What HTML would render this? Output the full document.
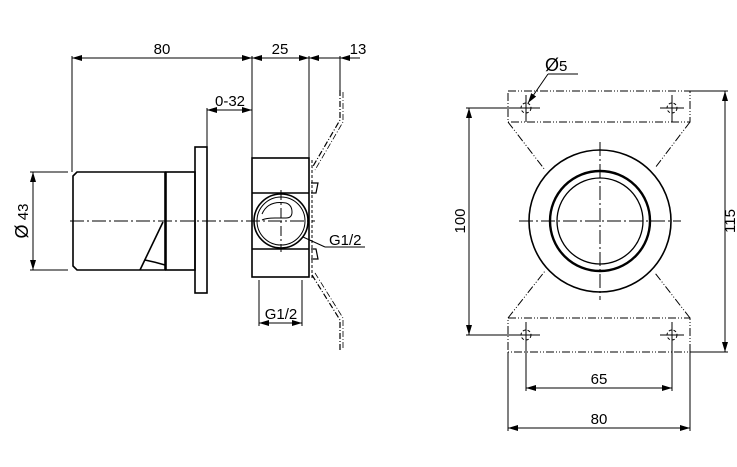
<!DOCTYPE html>
<html><head><style>html,body{margin:0;padding:0;background:#fff}svg{display:block}text{font-family:"Liberation Sans",sans-serif;font-size:15px;fill:#000}</style></head>
<body>
<svg width="737" height="467" viewBox="0 0 737 467" xmlns="http://www.w3.org/2000/svg">
<defs><marker id="a" viewBox="0 0 10 6" refX="10" refY="3" markerWidth="10" markerHeight="6" orient="auto-start-reverse" markerUnits="userSpaceOnUse"><path d="M0,0L10,3L0,6z" fill="#000"/></marker></defs>
<g stroke="#000" fill="none" stroke-width="1">
<line x1="72" y1="58" x2="252" y2="58" marker-start="url(#a)" marker-end="url(#a)"/>
<line x1="252" y1="58" x2="309" y2="58" marker-start="url(#a)" marker-end="url(#a)"/>
<line x1="309" y1="58" x2="340" y2="58" marker-start="url(#a)"/>
<line x1="340" y1="58" x2="360" y2="58" marker-start="url(#a)"/>
<line x1="72" y1="56" x2="72" y2="172"/>
<line x1="252" y1="56" x2="252" y2="158"/>
<line x1="309" y1="56" x2="309" y2="160"/>
<line x1="340" y1="56" x2="340" y2="90"/>
<line x1="207" y1="110" x2="252" y2="110" marker-start="url(#a)" marker-end="url(#a)"/>
<line x1="207" y1="108" x2="207" y2="147"/>
<g stroke-width="1.6">
<path d="M77,172 L165,172 L165,270 L77,270 L73,266 L73,176 Z"/>
<path d="M163,222 L140,270"/>
<path d="M145,260 Q155,262 165,265"/>
<rect x="166" y="172" width="29" height="98"/>
<rect x="195" y="147" width="12" height="146"/>
<rect x="252" y="158" width="57" height="119"/>
<line x1="252" y1="193" x2="309" y2="193"/>
<line x1="252" y1="249" x2="309" y2="249"/>
<circle cx="281" cy="221" r="27"/>
<circle cx="281" cy="221" r="24" stroke-width="1"/>
<path d="M262,214 Q268,200 286,203 Q292,205 292,212 Q292,218 286,218 L275,218 Q266,218 262,220" stroke-width="1"/>
<path d="M311,183 L318,183 L316,193 L311,193" stroke-width="1.2"/>
<path d="M311,249 L316,249 L318,259 L311,259" stroke-width="1.2"/>
</g>
<line x1="70" y1="221" x2="315" y2="221" stroke-dasharray="14,3,2,3"/>
<line x1="281" y1="190" x2="281" y2="252" stroke-dasharray="10,3,2,3"/>
<path d="M340,90 L340,120 L312,168" stroke-dasharray="6,2,1,2" stroke-width="1.2"/>
<path d="M343,92 L343,122 L315,170" stroke-dasharray="6,2,1,2" stroke-width="0.8"/>
<path d="M312,275 L340,320 L340,352" stroke-dasharray="6,2,1,2" stroke-width="1.2"/>
<path d="M315,273 L343,318 L343,350" stroke-dasharray="6,2,1,2" stroke-width="0.8"/>
<line x1="312" y1="160" x2="312" y2="280" stroke-dasharray="3,2"/>
<line x1="33" y1="172" x2="33" y2="270" marker-start="url(#a)" marker-end="url(#a)"/>
<line x1="30" y1="172" x2="68" y2="172"/>
<line x1="30" y1="270" x2="68" y2="270"/>
<line x1="303" y1="237" x2="325" y2="247"/>
<line x1="325" y1="247" x2="365" y2="247"/>
<line x1="259" y1="280" x2="259" y2="326"/>
<line x1="302" y1="280" x2="302" y2="326"/>
<line x1="259" y1="323" x2="302" y2="323" marker-start="url(#a)" marker-end="url(#a)"/>
<g stroke-dasharray="8,2,1,2,1,2">
<rect x="508" y="91" width="182" height="31"/>
<rect x="508" y="318" width="182" height="34"/>
<path d="M508,122 L545,170 M690,122 L655,168 M508,318 L545,271 M690,318 L655,273"/>
</g>
<circle cx="600" cy="221" r="71" stroke-width="1.6"/>
<circle cx="600" cy="221" r="50" stroke-width="2.4"/>
<circle cx="600" cy="221" r="43" stroke-width="1.3"/>
<line x1="519" y1="221" x2="681" y2="221" stroke-dasharray="14,3,2,3"/>
<line x1="600" y1="142" x2="600" y2="300" stroke-dasharray="14,3,2,3"/>
<g stroke-dasharray="3,2">
<circle cx="526" cy="108" r="5"/><circle cx="672" cy="108" r="5"/>
<circle cx="526" cy="335" r="5"/><circle cx="672" cy="335" r="5"/>
</g>
<line x1="526" y1="95" x2="526" y2="122"/><line x1="672" y1="95" x2="672" y2="122"/>
<line x1="660" y1="108" x2="684" y2="108"/>
<line x1="660" y1="335" x2="684" y2="335"/>
<line x1="526" y1="322" x2="526" y2="391"/><line x1="672" y1="322" x2="672" y2="391"/>
<line x1="466" y1="108" x2="540" y2="108"/>
<line x1="466" y1="335" x2="540" y2="335"/>
<line x1="469" y1="108" x2="469" y2="335" marker-start="url(#a)" marker-end="url(#a)"/>
<line x1="690" y1="91" x2="728" y2="91"/>
<line x1="690" y1="352" x2="728" y2="352"/>
<line x1="725" y1="91" x2="725" y2="352" marker-start="url(#a)" marker-end="url(#a)"/>
<line x1="526" y1="388" x2="672" y2="388" marker-start="url(#a)" marker-end="url(#a)"/>
<line x1="508" y1="352" x2="508" y2="431"/><line x1="690" y1="352" x2="690" y2="431"/>
<line x1="508" y1="428" x2="690" y2="428" marker-start="url(#a)" marker-end="url(#a)"/>
<line x1="548" y1="74" x2="528" y2="103" marker-end="url(#a)"/>
<line x1="548" y1="74" x2="578" y2="74"/>
</g>
<text x="162" y="54" text-anchor="middle">80</text>
<text x="280" y="54" text-anchor="middle">25</text>
<text x="358" y="54" text-anchor="middle">13</text>
<text x="230" y="106" text-anchor="middle">0-32</text>
<text x="329" y="245">G1/2</text>
<text x="281" y="319" text-anchor="middle">G1/2</text>
<text transform="translate(28,221) rotate(-90)" text-anchor="middle"><tspan font-size="18">Ø</tspan> 43</text>
<text x="545" y="71"><tspan font-size="18">Ø</tspan>5</text>
<text transform="translate(465,221) rotate(-90)" text-anchor="middle">100</text>
<text transform="translate(735,221) rotate(-90)" text-anchor="middle">115</text>
<text x="599" y="384" text-anchor="middle">65</text>
<text x="599" y="424" text-anchor="middle">80</text>
</svg>
</body></html>
